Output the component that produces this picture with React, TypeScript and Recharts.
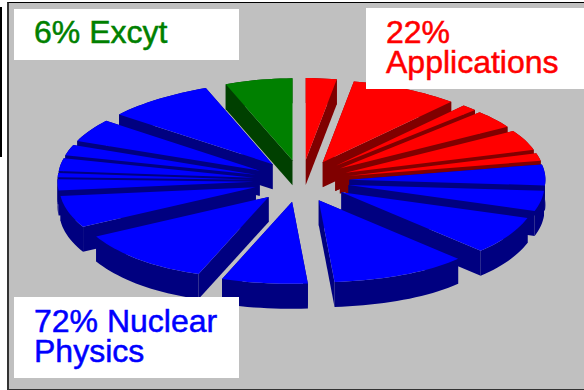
import React from 'react'
import { Pie, PieChart } from 'recharts'

// Shares in percent, clockwise from the top of the pie
const applicationShares = [2.8, 9.0, 1.2, 3.5, 4.0, 1.5]
const nuclearShares = [4.1, 4.0, 7.6, 11.1, 6.7, 11.5, 6.3, 2.2, 0.8, 2.5, 2.1, 4.5, 8.6]
const excytShares = [6.0]

const NUCLEAR_RIGHT_COUNT = 4

const WIDTH = 584
const HEIGHT = 390
const CX = 301.5
const CY = 181
const RADIUS = 196
const RADIUS_Y = 82
const EXPLODE_X = 48
const EXPLODE_Y = 21
const DEPTH = 25
// The far side of the pie narrows and the near side widens a little, as in perspective
const FAR_NARROWING = 0.1
const NEAR_WIDENING = 0.07
// Slices at the front sit slightly left of the pie's axis
const NEAR_DRIFT = 3

const PALETTE = {
  applications: { top: '#ff0000', side: '#800000' },
  nuclear: { top: '#0000ff', side: '#000080' },
  excyt: { top: '#008000', side: '#004000' },
}

type Group = keyof typeof PALETTE

const toRows = (values: number[], group: Group) => values.map((value) => ({ value, group }))

// The pie is painted back to front, so each half runs from the top down to the front
const rightRows = [
  ...toRows(applicationShares, 'applications'),
  ...toRows(nuclearShares.slice(0, NUCLEAR_RIGHT_COUNT), 'nuclear'),
]
const leftRows = [
  ...toRows(excytShares, 'excyt'),
  ...toRows(nuclearShares.slice(NUCLEAR_RIGHT_COUNT).reverse(), 'nuclear'),
]

const sweep = (rows: { value: number }[]) => rows.reduce((sum, row) => sum + row.value, 0) * 3.6

const polygon = (points: number[][]) => `M${points.map((p) => p.join(',')).join(' L')} Z`

function TiltedSlice(props: any) {
  const { cx, cy, outerRadius, startAngle, endAngle, group } = props
  const colors = PALETTE[(group ?? props.payload?.group) as Group]

  // Recharts angles run counter-clockwise from 3 o'clock
  const lower = Math.min(startAngle, endAngle)
  const upper = Math.max(startAngle, endAngle)
  const mid = (((lower + upper) / 2) * Math.PI) / 180
  const midSin = Math.sin(mid)
  const drift = midSin < 0 ? NEAR_DRIFT * midSin ** 2 : 0
  const tipX = cx + EXPLODE_X * Math.cos(mid) - drift
  const tipY = cy - EXPLODE_Y * midSin

  const rimPoint = (deg: number) => {
    const a = (deg * Math.PI) / 180
    const sin = Math.sin(a)
    const scale = sin > 0 ? 1 - FAR_NARROWING * sin ** 4 : 1 + NEAR_WIDENING * sin ** 4
    return [tipX + outerRadius * Math.cos(a) * scale, tipY - RADIUS_Y * sin]
  }

  const steps = Math.max(2, Math.ceil((upper - lower) / 2))
  const rim: number[][] = []
  for (let i = 0; i <= steps; i++) {
    rim.push(rimPoint(upper - ((upper - lower) * i) / steps))
  }
  const drop = ([x, y]: number[]) => [x, y + DEPTH]
  const tip = [tipX, tipY]
  const first = rim[0]
  const last = rim[rim.length - 1]

  return (
    <g>
      <path d={polygon([tip, first, drop(first), drop(tip)])} fill={colors.side} />
      <path d={polygon([tip, last, drop(last), drop(tip)])} fill={colors.side} />
      <path d={polygon([...rim, ...rim.map(drop).reverse()])} fill={colors.side} />
      <path d={polygon([tip, ...rim])} fill={colors.top} />
    </g>
  )
}

function Note({ left, top, width, height, textLeft, textTop, color, lines }: any) {
  return (
    <div style={{ position: 'absolute', left, top, width, height, background: '#fff' }}>
      <div
        style={{
          position: 'absolute',
          left: textLeft - left,
          top: textTop - top,
          color,
          fontFamily: '"Liberation Sans", Arial, sans-serif',
          fontSize: 32,
          lineHeight: '30px',
          whiteSpace: 'nowrap',
          WebkitTextStroke: `0.5px ${color}`,
        }}
      >
        {lines.map((line: string) => (
          <div key={line}>{line}</div>
        ))}
      </div>
    </div>
  )
}

export default function App() {
  return (
    <div
      style={{
        position: 'absolute',
        left: 0,
        top: 0,
        width: WIDTH,
        height: HEIGHT,
        overflow: 'hidden',
        background: '#fff',
      }}
    >
      <div style={{ position: 'absolute', left: 0, top: 7, width: 2, height: 150, background: '#000' }} />
      <div
        style={{
          position: 'absolute',
          left: 7,
          top: 2,
          right: 0,
          bottom: 0,
          background: '#c0c0c0',
          borderLeft: '2px solid #333',
          borderTop: '1px solid #000',
          borderBottom: '1px solid #333',
          boxSizing: 'border-box',
        }}
      />
      <div style={{ position: 'absolute', left: 0, top: 0 }}>
        <PieChart width={WIDTH} height={HEIGHT} margin={{ top: 0, right: 0, bottom: 0, left: 0 }}>
          <Pie
            data={rightRows}
            dataKey="value"
            cx={CX}
            cy={CY}
            innerRadius={0}
            outerRadius={RADIUS}
            startAngle={90}
            endAngle={90 - sweep(rightRows)}
            shape={TiltedSlice}
            label={false}
            labelLine={false}
            isAnimationActive={false}
          />
          <Pie
            data={leftRows}
            dataKey="value"
            cx={CX}
            cy={CY}
            innerRadius={0}
            outerRadius={RADIUS}
            startAngle={90}
            endAngle={90 + sweep(leftRows)}
            shape={TiltedSlice}
            label={false}
            labelLine={false}
            isAnimationActive={false}
          />
        </PieChart>
      </div>
      <Note left={14} top={9} width={225} height={51} textLeft={34} textTop={17} color="#008000" lines={['6% Excyt']} />
      <Note
        left={366}
        top={8}
        width={218}
        height={81}
        textLeft={386}
        textTop={17}
        color="#ff0000"
        lines={['22%', 'Applications']}
      />
      <Note
        left={14}
        top={297}
        width={225}
        height={81}
        textLeft={34}
        textTop={306}
        color="#0000ff"
        lines={['72% Nuclear', 'Physics']}
      />
    </div>
  )
}
